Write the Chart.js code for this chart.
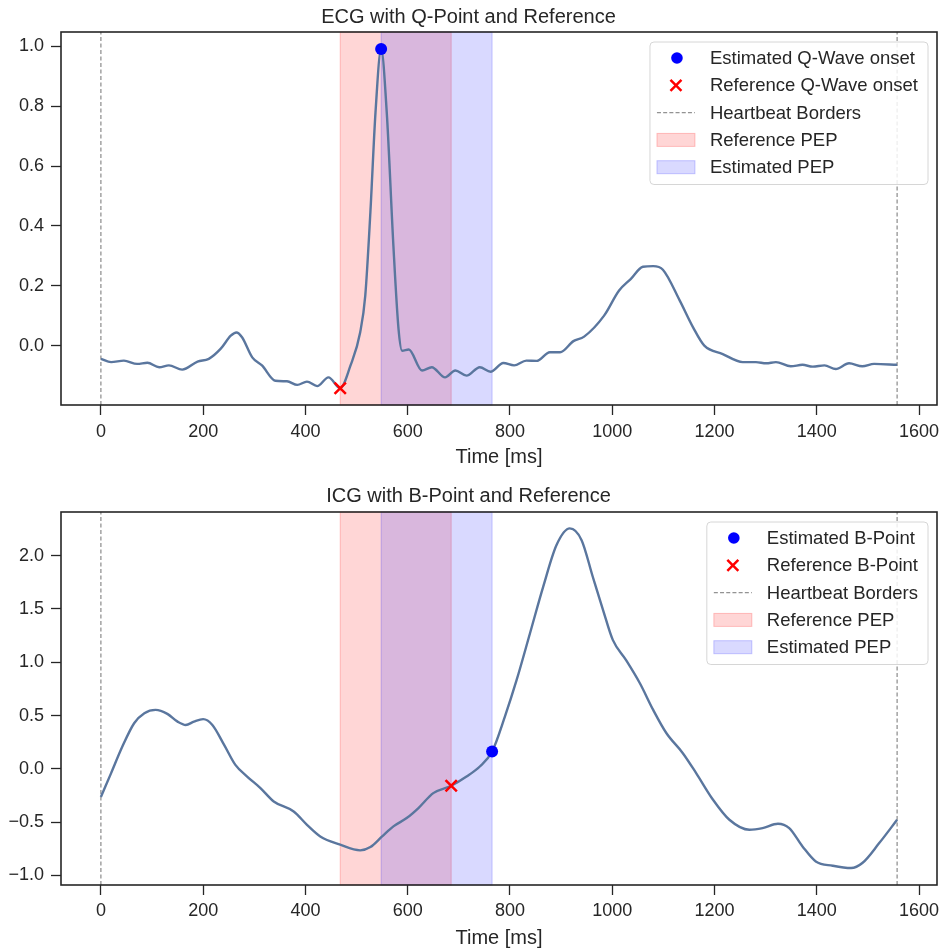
<!DOCTYPE html>
<html>
<head>
<meta charset="utf-8">
<script src="https://cdn.jsdelivr.net/npm/chart.js@4.4.0/dist/chart.umd.min.js"></script>
<style>
    html, body { margin: 0; padding: 0; background: #fff; }
    #wrap { position: relative; width: 944px; height: 951px; }
    canvas { position: absolute; left: 0; }
</style>
</head>
<body>
<div id="wrap">
    <canvas id="ecgChart" width="944" height="476" style="top:0px"></canvas>
    <canvas id="icgChart" width="944" height="475" style="top:476px"></canvas>
</div>
<script>
// ---- data ----
const xTicks = [0, 200, 400, 600, 800, 1000, 1200, 1400, 1600];
const ecgYTicks = [0, 0.2, 0.4, 0.6, 0.8, 1.0];
const icgYTicks = [-1.0, -0.5, 0, 0.5, 1.0, 1.5, 2.0];

const timeRange = [-78, 1635];
const ecgRange = [-0.197, 1.047];
const icgRange = [-1.09, 2.41];

const ecgTime = [0, 20, 45, 71, 91, 114, 133, 159, 189, 211, 234, 254, 265, 276, 296, 315, 341, 364, 384, 403,
    423, 445, 468, 488, 507, 517, 527, 537, 548, 559, 572, 582, 589, 602, 628, 647, 673, 693, 715, 741,
    762, 787, 808, 832, 852, 878, 898, 924, 945, 984, 1013, 1036, 1060, 1080, 1099, 1132, 1158, 1180, 1216, 1255,
    1281, 1301, 1320, 1349, 1372, 1392, 1415, 1437, 1463, 1489, 1512, 1557];
const ecgValue = [-0.043, -0.054, -0.049, -0.06, -0.056, -0.071, -0.065, -0.079, -0.052, -0.043, -0.01, 0.034, 0.045, 0.029, -0.038, -0.065, -0.116, -0.118, -0.13, -0.119,
    -0.134, -0.105, -0.141, -0.066, 0.045, 0.168, 0.446, 0.779, 0.99, 0.779, 0.334, 0.057, -0.016, -0.012, -0.082, -0.071, -0.105, -0.082, -0.099, -0.071,
    -0.086, -0.057, -0.065, -0.049, -0.05, -0.021, -0.021, 0.016, 0.031, 0.101, 0.184, 0.223, 0.264, 0.266, 0.254, 0.151, 0.062, 0.001, -0.027, -0.054,
    -0.054, -0.058, -0.054, -0.068, -0.063, -0.069, -0.065, -0.077, -0.058, -0.068, -0.06, -0.063];

const icgTime = [0, 20, 42, 65, 85, 107, 130, 150, 166, 182, 200, 218, 241, 263, 286, 312, 338, 377, 403, 429,
    468, 507, 527, 550, 572, 598, 621, 650, 685, 715, 741, 765, 790, 813, 839, 865, 891, 917, 940, 962,
    982, 1001, 1027, 1054, 1080, 1106, 1138, 1164, 1197, 1229, 1268, 1294, 1324, 1346, 1372, 1398, 1431, 1467, 1489, 1522, 1557];
const icgValue = [-0.265, -0.04, 0.209, 0.428, 0.522, 0.553, 0.516, 0.443, 0.412, 0.443, 0.466, 0.412, 0.225, 0.037, -0.072, -0.181, -0.306, -0.4, -0.525, -0.634,
    -0.712, -0.765, -0.734, -0.634, -0.54, -0.462, -0.368, -0.228, -0.159, -0.072, 0.022, 0.162, 0.49, 0.834, 1.27, 1.71, 2.10, 2.256, 2.146, 1.80,
    1.49, 1.21, 1.02, 0.803, 0.553, 0.334, 0.147, -0.04, -0.29, -0.478, -0.572, -0.556, -0.515, -0.556, -0.728, -0.869, -0.909, -0.931, -0.884, -0.697, -0.478];

const heartbeatBorders = [0, 1557];
const referencePep = [468, 685];
const estimatedPep = [548, 765];

const estimatedQ = [548, 0.99];
const referenceQ = [468, -0.141];
const estimatedB = [765, 0.162];
const referenceB = [685, -0.159];

const ecgLegendLabels = ['Estimated Q-Wave onset', 'Reference Q-Wave onset', 'Heartbeat Borders', 'Reference PEP', 'Estimated PEP'];
const icgLegendLabels = ['Estimated B-Point', 'Reference B-Point', 'Heartbeat Borders', 'Reference PEP', 'Estimated PEP'];

// ---- styling ----
const FONT = '"Liberation Sans", Arial, sans-serif';
const TEXT = '#262626';
const LINE = 'rgb(90,118,158)';
const RED_FACE = 'rgba(255,0,0,0.16)';
const RED_EDGE = 'rgba(255,0,0,0.22)';
const BLUE_FACE = 'rgba(0,0,255,0.15)';
const BLUE_EDGE = 'rgba(0,0,255,0.2)';
const BORDER_GRAY = 'rgba(128,128,128,0.85)';

// shaded PEP windows, drawn under the lines
const spanPlugin = {
    id: 'pepSpans',
    beforeDatasetsDraw(chart) {
        const { ctx, chartArea: a, scales: { x } } = chart;
        const spans = [[referencePep, RED_FACE, RED_EDGE], [estimatedPep, BLUE_FACE, BLUE_EDGE]];
        ctx.save();
        spans.forEach(([range, face, edge]) => {
            const x1 = x.getPixelForValue(range[0]);
            const x2 = x.getPixelForValue(range[1]);
            ctx.fillStyle = face;
            ctx.fillRect(x1, a.top, x2 - x1, a.bottom - a.top);
            ctx.strokeStyle = edge;
            ctx.lineWidth = 1;
            ctx.strokeRect(x1, a.top, x2 - x1, a.bottom - a.top);
        });
        ctx.restore();
    }
};

// full box around the axes + legend
const framePlugin = {
    id: 'frameAndLegend',
    afterDraw(chart, args, opts) {
        const { ctx, chartArea: a } = chart;
        ctx.save();
        ctx.strokeStyle = TEXT;
        ctx.lineWidth = 1.6;
        ctx.strokeRect(a.left, a.top, a.right - a.left, a.bottom - a.top);

        // legend
        const labels = opts.labels;
        ctx.font = '18.5px ' + FONT;
        const maxW = Math.max(...labels.map(l => ctx.measureText(l).width));
        const w = 60 + maxW + 10;
        const rowH = 27.3;
        const h = rowH * labels.length + 6;
        const left = a.right - 9 - w;
        const top = a.top + 10;
        ctx.beginPath();
        ctx.roundRect(left, top, w, h, 4);
        ctx.fillStyle = 'rgba(255,255,255,0.85)';
        ctx.fill();
        ctx.strokeStyle = '#d6d6d6';
        ctx.lineWidth = 1;
        ctx.stroke();

        const cx = left + 26;
        labels.forEach((label, i) => {
            const cy = top + 16 + i * rowH;
            if (i === 0) {
                ctx.beginPath();
                ctx.arc(cx + 1, cy, 5.8, 0, Math.PI * 2);
                ctx.fillStyle = '#0000ff';
                ctx.fill();
            } else if (i === 1) {
                ctx.beginPath();
                ctx.moveTo(cx - 5.5, cy - 5.5); ctx.lineTo(cx + 5.5, cy + 5.5);
                ctx.moveTo(cx + 5.5, cy - 5.5); ctx.lineTo(cx - 5.5, cy + 5.5);
                ctx.strokeStyle = '#ff0000';
                ctx.lineWidth = 2.5;
                ctx.stroke();
            } else if (i === 2) {
                ctx.beginPath();
                ctx.setLineDash([4, 2.2]);
                ctx.moveTo(cx - 19, cy); ctx.lineTo(cx + 19, cy);
                ctx.strokeStyle = BORDER_GRAY;
                ctx.lineWidth = 1.2;
                ctx.stroke();
                ctx.setLineDash([]);
            } else {
                const face = i === 3 ? RED_FACE : BLUE_FACE;
                const edge = i === 3 ? RED_EDGE : BLUE_EDGE;
                ctx.fillStyle = face;
                ctx.fillRect(cx - 19, cy - 6.5, 38, 13);
                ctx.strokeStyle = edge;
                ctx.lineWidth = 1;
                ctx.strokeRect(cx - 19, cy - 6.5, 38, 13);
            }
            ctx.fillStyle = TEXT;
            ctx.textBaseline = 'middle';
            ctx.textAlign = 'left';
            ctx.fillText(label, left + 60, cy + 1);
        });
        ctx.restore();
    }
};

function makeChart(canvasId, cfg) {
    const signal = cfg.time.map((t, i) => ({ x: t, y: cfg.values[i] }));
    const borderSets = heartbeatBorders.map(b => ({
        type: 'line',
        data: [{ x: b, y: cfg.yRange[0] }, { x: b, y: cfg.yRange[1] }],
        borderColor: BORDER_GRAY,
        borderWidth: 1.3,
        borderDash: [4, 2.5],
        pointRadius: 0,
        order: 3
    }));

    return new Chart(document.getElementById(canvasId), {
        type: 'line',
        data: {
            datasets: [
                {
                    type: 'scatter',
                    data: [{ x: cfg.estPoint[0], y: cfg.estPoint[1] }],
                    pointStyle: 'circle',
                    pointRadius: 6,
                    backgroundColor: '#0000ff',
                    borderWidth: 0,
                    order: 0
                },
                {
                    type: 'scatter',
                    data: [{ x: cfg.refPoint[0], y: cfg.refPoint[1] }],
                    pointStyle: 'crossRot',
                    pointRadius: 8,
                    borderColor: '#ff0000',
                    borderWidth: 2.5,
                    order: 0
                },
                {
                    type: 'line',
                    data: signal,
                    borderColor: LINE,
                    borderWidth: 2.4,
                    pointRadius: 0,
                    cubicInterpolationMode: 'monotone',
                    order: 1
                },
                ...borderSets
            ]
        },
        options: {
            responsive: false,
            animation: false,
            events: [],
            layout: { autoPadding: false, padding: { right: 7, left: 0, top: 0, bottom: 0 } },
            plugins: {
                legend: { display: false },
                tooltip: { enabled: false },
                title: {
                    display: true,
                    text: cfg.title,
                    color: TEXT,
                    font: { family: FONT, size: 20, weight: 'normal' },
                    padding: cfg.titlePadding
                },
                frameAndLegend: { labels: cfg.legend }
            },
            scales: {
                x: {
                    type: 'linear',
                    min: timeRange[0],
                    max: timeRange[1],
                    afterBuildTicks: s => { s.ticks = xTicks.map(v => ({ value: v })); },
                    afterFit: s => {
                        s.height = cfg.xAxisHeight;
                        s.paddingLeft = 0;
                        s.paddingRight = 0;
                    },
                    ticks: {
                        color: TEXT,
                        font: { family: FONT, size: 18 },
                        padding: cfg.xTickPad,
                        maxRotation: 0,
                        autoSkip: false,
                        callback: v => String(v)
                    },
                    grid: { display: true, drawOnChartArea: false, drawTicks: true, tickLength: 10, tickColor: TEXT, tickWidth: 1.3 },
                    border: { display: false },
                    title: {
                        display: true,
                        text: 'Time [ms]',
                        color: TEXT,
                        font: { family: FONT, size: 20 },
                        padding: { top: 0, bottom: cfg.xTitlePad }
                    }
                },
                y: {
                    type: 'linear',
                    min: cfg.yRange[0],
                    max: cfg.yRange[1],
                    afterBuildTicks: s => { s.ticks = cfg.yTicks.map(v => ({ value: v })); },
                    afterFit: s => { s.width = 61; },
                    ticks: {
                        color: TEXT,
                        font: { family: FONT, size: 18 },
                        padding: 7,
                        autoSkip: false,
                        callback: v => (v < 0 ? '\u2212' : '') + Math.abs(v).toFixed(1)
                    },
                    grid: { display: true, drawOnChartArea: false, drawTicks: true, tickLength: 10, tickColor: TEXT, tickWidth: 1.3 },
                    border: { display: false }
                }
            }
        },
        plugins: [spanPlugin, framePlugin]
    });
}

makeChart('ecgChart', {
    title: 'ECG with Q-Point and Reference',
    time: ecgTime,
    values: ecgValue,
    yRange: ecgRange,
    yTicks: ecgYTicks,
    estPoint: estimatedQ,
    refPoint: referenceQ,
    legend: ecgLegendLabels,
    titlePadding: { top: 5, bottom: 3 },
    xAxisHeight: 71,
    xTickPad: 6,
    xTitlePad: 7
});

makeChart('icgChart', {
    title: 'ICG with B-Point and Reference',
    time: icgTime,
    values: icgValue,
    yRange: icgRange,
    yTicks: icgYTicks,
    estPoint: estimatedB,
    refPoint: referenceB,
    legend: icgLegendLabels,
    titlePadding: { top: 8.5, bottom: 3.5 },
    xAxisHeight: 66,
    xTickPad: 5.5,
    xTitlePad: 1
});
</script>
</body>
</html>
